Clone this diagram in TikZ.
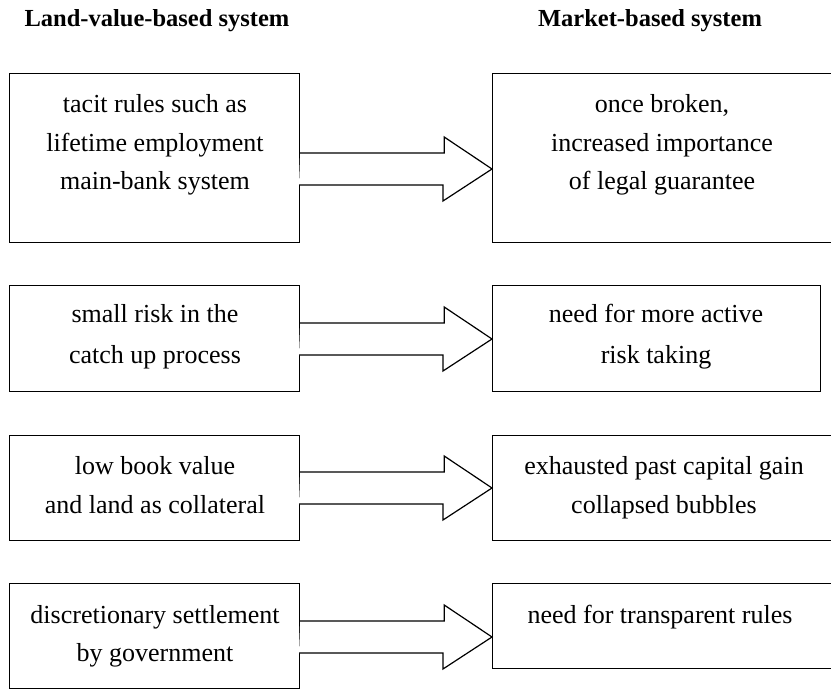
\documentclass[tikz,border=0pt]{standalone}
\usepackage{fontspec}
\setmainfont{Liberation Serif}
\usetikzlibrary{calc}
\begin{document}
\begin{tikzpicture}[x=1pt,y=-1pt,
  box/.style={draw, line width=1.2pt, rectangle, inner sep=0pt, anchor=north west},
  txt/.style={inner sep=0pt, anchor=base, font=\fontsize{26}{30}\selectfont},
  head/.style={inner sep=0pt, anchor=base, font=\fontsize{24.5}{28}\selectfont\bfseries},
  bigarrow/.style={draw, line width=1.2pt, line join=miter, fill=white}]
\useasboundingbox (0,0) rectangle (831,690);
\clip (0,0) rectangle (831,690);

% column headings
\node[head] (hL) at (157,27) {Land-value-based system};
\node[head] (hR) at (650,27) {Market-based system};

% left column boxes
\node[box, minimum width=290pt, minimum height=169pt] (L1) at (9,73) {};
\node[box, minimum width=290pt, minimum height=106pt] (L2) at (9,285) {};
\node[box, minimum width=290pt, minimum height=105pt] (L3) at (9,435) {};
\node[box, minimum width=290pt, minimum height=105pt] (L4) at (9,583) {};

% right column boxes
\node[box, minimum width=358pt, minimum height=169pt] (R1) at (492,73) {};
\node[box, minimum width=328pt, minimum height=106pt] (R2) at (492,285) {};
\node[box, minimum width=358pt, minimum height=105pt] (R3) at (492,435) {};
\node[box, minimum width=358pt, minimum height=85pt] (R4) at (492,583) {};

% arrow tips on the right boxes
\coordinate (t1) at (R1.west |- 0,169);
\coordinate (t2) at (R2.west |- 0,339);
\coordinate (t3) at (R3.west |- 0,488);
\coordinate (t4) at (R4.west |- 0,637);

% block arrows
\foreach \s/\t in {L1/t1, L2/t2, L3/t3, L4/t4}{
  \draw[bigarrow] (\s.east |- \t) ++(0,-16) -- ++(144,0) -- ++(0,-16) -- (\t)
    -- ++(-49,32) -- ++(0,-16) -- ++(-144,0);
}

% left texts
\node[txt] (l1a) at (155,113) {tacit rules such as};
\node[txt] (l1b) at (155,152) {lifetime employment};
\node[txt] (l1c) at (155,190) {main-bank system};
\node[txt] (l2a) at (155,323) {small risk in the};
\node[txt] (l2b) at (155,363) {catch up process};
\node[txt] (l3a) at (155,474) {low book value};
\node[txt] (l3b) at (155,513) {and land as collateral};
\node[txt] (l4a) at (155,623) {discretionary settlement};
\node[txt] (l4b) at (155,661) {by government};

% right texts
\node[txt] (r1a) at (662,113) {once broken,};
\node[txt] (r1b) at (662,152) {increased importance};
\node[txt] (r1c) at (662,190) {of legal guarantee};
\node[txt] (r2a) at (656,323) {need for more active};
\node[txt] (r2b) at (656,363) {risk taking};
\node[txt] (r3a) at (664,474) {exhausted past capital gain};
\node[txt] (r3b) at (664,513) {collapsed bubbles};
\node[txt] (r4a) at (660,623) {need for transparent rules};
\end{tikzpicture}
\end{document}
